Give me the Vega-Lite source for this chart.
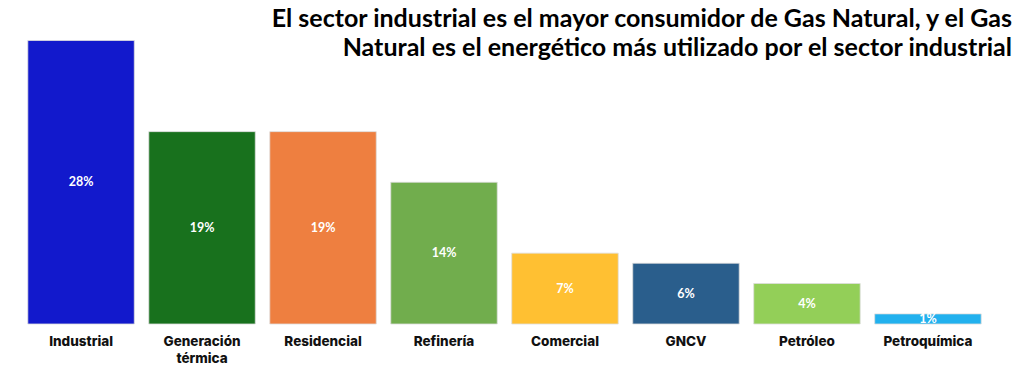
{
  "$schema": "https://vega.github.io/schema/vega-lite/v6.json",
  "width": 1009,
  "height": 324,
  "autosize": "none",
  "padding": {"left": 0, "top": 0, "right": 15, "bottom": 66},
  "background": "white",
  "config": {"view": {"stroke": null}},
  "title": {
    "text": ["El sector industrial es el mayor consumidor de Gas Natural, y el Gas", "Natural es el energético más utilizado por el sector industrial"],
    "anchor": "end",
    "frame": "group",
    "font": "Lato",
    "fontSize": 25,
    "fontWeight": "bold",
    "color": "#000000",
    "lineHeight": 29,
    "baseline": "top",
    "dy": 65,
    "dx": 3
  },
  "data": {
    "values": [
      {"sector": "Industrial", "share": 28},
      {"sector": "Generación térmica", "share": 19},
      {"sector": "Residencial", "share": 19},
      {"sector": "Refinería", "share": 14},
      {"sector": "Comercial", "share": 7},
      {"sector": "GNCV", "share": 6},
      {"sector": "Petróleo", "share": 4},
      {"sector": "Petroquímica", "share": 1}
    ]
  },
  "encoding": {
    "x": {
      "field": "sector",
      "type": "nominal",
      "sort": null,
      "scale": {"paddingInner": 0.12, "paddingOuter": 0.23},
      "axis": {
        "title": null,
        "labelAngle": 0,
        "domain": false,
        "ticks": false,
        "labelPadding": 10,
        "labelFont": "Inter",
        "labelFontSize": 13.5,
        "labelFontWeight": 800,
        "labelColor": "#111111",
        "labelLineHeight": 17,
        "labelExpr": "split(datum.value, ' ')"
      }
    }
  },
  "layer": [
    {
      "mark": {"type": "bar", "stroke": "#dddddd", "strokeWidth": 0.8},
      "encoding": {
        "y": {"field": "share", "type": "quantitative", "scale": {"domain": [0, 32]}, "axis": null},
        "color": {
          "field": "sector",
          "type": "nominal",
          "sort": null,
          "legend": null,
          "scale": {
            "domain": ["Industrial", "Generación térmica", "Residencial", "Refinería", "Comercial", "GNCV", "Petróleo", "Petroquímica"],
            "range": ["#1219CC", "#18711D", "#EE7F40", "#71AD4D", "#FFC032", "#2A5E8C", "#93CF58", "#22B1EE"]
          }
        }
      }
    },
    {
      "transform": [
        {"calculate": "datum.share / 2", "as": "mid"},
        {"calculate": "datum.share + '%'", "as": "label"}
      ],
      "mark": {"type": "text", "color": "white", "font": "Lato", "fontSize": 12.5, "fontWeight": "bold", "baseline": "middle"},
      "encoding": {
        "y": {"field": "mid", "type": "quantitative", "scale": {"domain": [0, 32]}},
        "text": {"field": "label", "type": "nominal"}
      }
    }
  ],
  "resolve": {"scale": {"y": "shared"}}
}
